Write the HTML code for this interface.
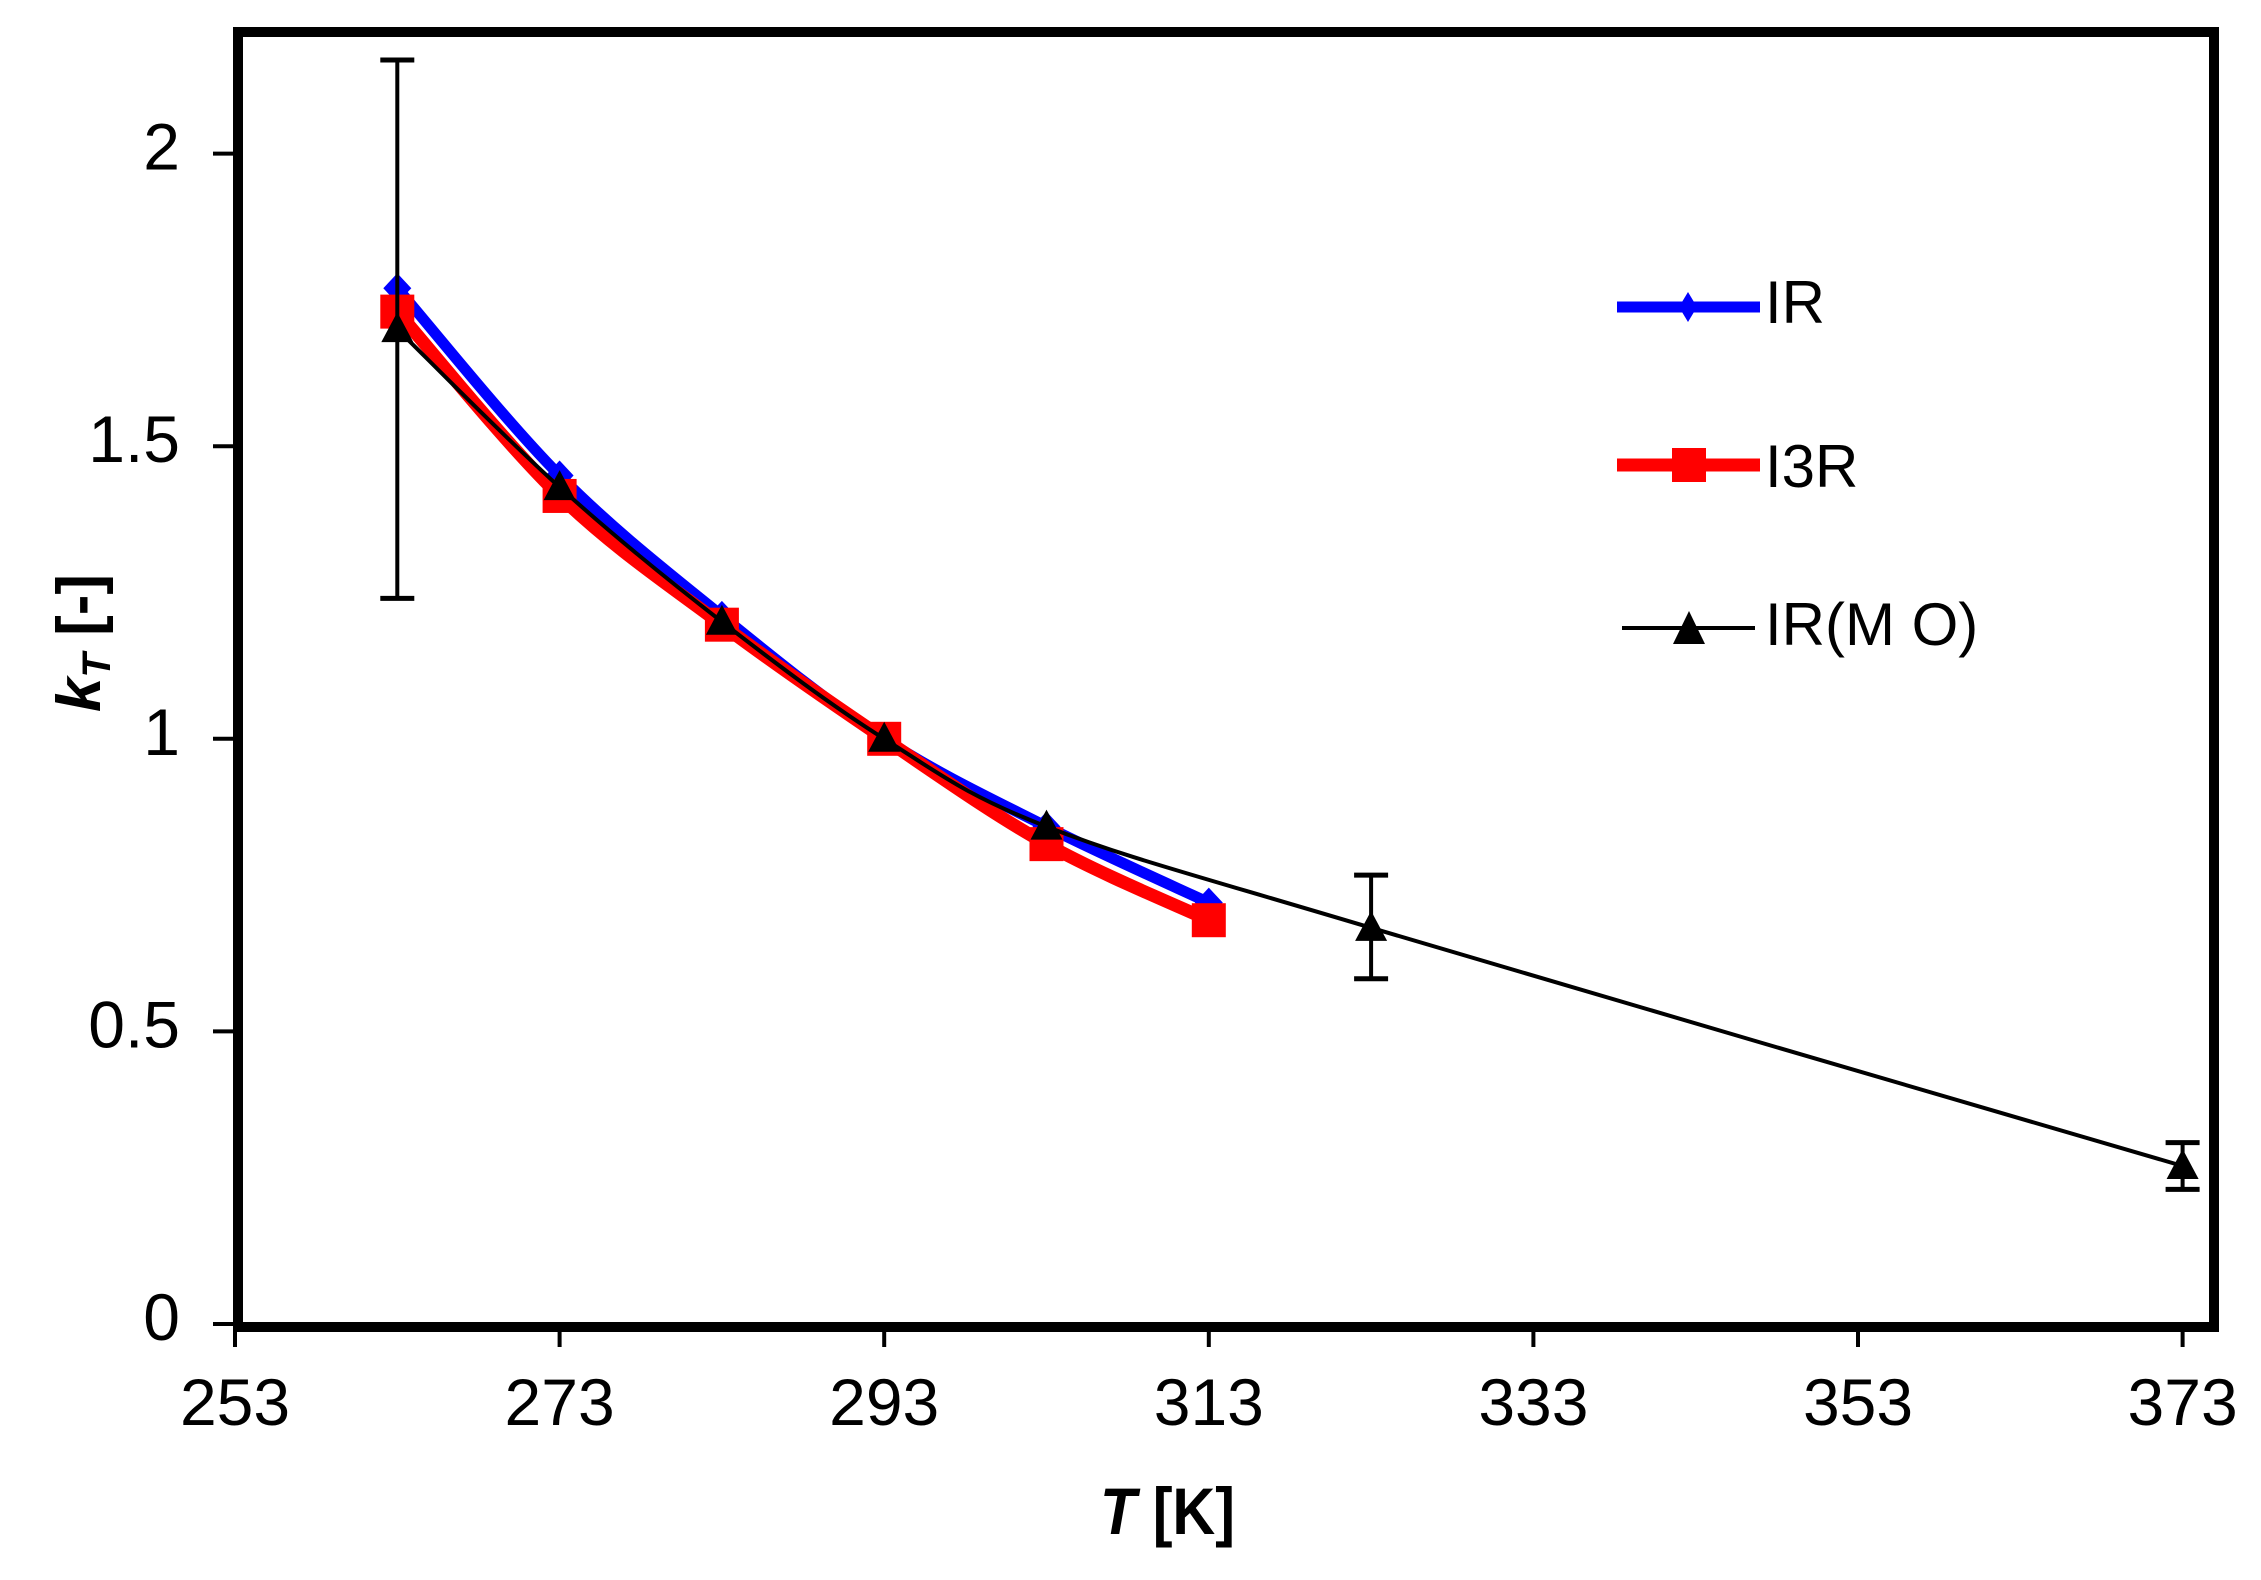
<!DOCTYPE html>
<html><head><meta charset="utf-8"><style>
html,body{margin:0;padding:0;background:#fff;}
svg{display:block;font-family:"Liberation Sans",Arial,sans-serif;}
</style></head><body>
<svg id="chart" width="2261" height="1580" viewBox="0 0 2261 1580" xmlns="http://www.w3.org/2000/svg">
<g id="plot"></g>
<g id="legend">
  <g>
    <line x1="1617" y1="307" x2="1760" y2="307" stroke="#0000ff" stroke-width="11"/>
    <path d="M1688,292 L1697,307 L1688,322 L1679,307 Z" fill="#0000ff"/>
    <text x="1765" y="323" font-size="60" fill="#000">IR</text>
  </g>
  <g>
    <line x1="1617" y1="465" x2="1760" y2="465" stroke="#ff0000" stroke-width="13"/>
    <rect x="1672" y="448" width="34" height="34" fill="#ff0000"/>
    <text x="1765" y="487" font-size="60" fill="#000">I3R</text>
  </g>
  <g>
    <line x1="1622" y1="628" x2="1755" y2="628" stroke="#000" stroke-width="4"/>
    <path d="M1689,611 L1705,644 L1673,644 Z" fill="#000"/>
    <text x="1765" y="645" font-size="60" fill="#000">IR(M O)</text>
  </g>
</g>
<text x="1100" y="1534" font-size="66" font-weight="bold" textLength="135" lengthAdjust="spacingAndGlyphs"><tspan font-style="italic">T</tspan> [K]</text>
<text transform="translate(100,643) rotate(-90)" text-anchor="middle" font-size="62" font-weight="bold"><tspan font-style="italic">k</tspan><tspan font-style="italic" font-size="40" dy="10">T</tspan><tspan dy="-10"> [-]</tspan></text>
</svg>
<script>
const xTicks = [253, 273, 293, 313, 333, 353, 373];
const yTicks = [0, 0.5, 1, 1.5, 2];
const yTickLabels = ["0", "0.5", "1", "1.5", "2"];
const irT = [263, 273, 283, 293, 303, 313];
const irK = [1.77, 1.45, 1.21, 1.0, 0.85, 0.72];
const i3rT = [263, 273, 283, 293, 303, 313];
const i3rK = [1.73, 1.415, 1.195, 1.0, 0.82, 0.69];
const moT = [263, 273, 283, 293, 303, 323, 373];
const moK = [1.70, 1.43, 1.20, 1.0, 0.85, 0.677, 0.27];
const moErrHi = [2.16, null, null, null, null, 0.767, 0.31];
const moErrLo = [1.24, null, null, null, null, 0.59, 0.23];

const NS = "http://www.w3.org/2000/svg";
const X0 = 235, XS = 16.23, Y0 = 1324, YS = 585.2;
const L = 238, R = 2214, T = 32, B = 1327;
function xp(v){ return X0 + (v - 253) * XS; }
function yp(v){ return Y0 - v * YS; }
const plot = document.getElementById('plot');
function mk(tag, attrs, parent){
  const e = document.createElementNS(NS, tag);
  for (const k in attrs) e.setAttribute(k, attrs[k]);
  (parent || plot).appendChild(e);
  return e;
}
function smooth(xs, ys){
  const p = xs.map(function(x, i){ return [xp(x), yp(ys[i])]; });
  let d = 'M' + p[0][0] + ',' + p[0][1];
  for (let i = 0; i < p.length - 1; i++){
    const p0 = p[i-1] || p[i], p1 = p[i], p2 = p[i+1], p3 = p[i+2] || p2;
    const c1x = p1[0] + (p2[0]-p0[0])/6, c1y = p1[1] + (p2[1]-p0[1])/6;
    const c2x = p2[0] - (p3[0]-p1[0])/6, c2y = p2[1] - (p3[1]-p1[1])/6;
    d += ' C' + c1x + ',' + c1y + ' ' + c2x + ',' + c2y + ' ' + p2[0] + ',' + p2[1];
  }
  return d;
}
const frame = mk('rect', {x:L, y:T, width:R-L, height:B-T, fill:'none', stroke:'#000', 'stroke-width':10});


xTicks.forEach(function(v){
  const g = mk('g', {});
  
  
  mk('line', {x1:xp(v), x2:xp(v), y1:B, y2:1347, stroke:'#000', 'stroke-width':4}, g);
  const t = mk('text', {x:xp(v), y:1425, 'text-anchor':'middle', 'font-size':66}, g);
  t.textContent = String(v);
});
yTicks.forEach(function(v, i){
  const g = mk('g', {});
  
  
  mk('line', {x1:213, x2:L, y1:yp(v), y2:yp(v), stroke:'#000', 'stroke-width':4}, g);
  const t = mk('text', {x:180, y:yp(v) + 16, 'text-anchor':'end', 'font-size':66}, g);
  t.textContent = yTickLabels[i];
});
const irG = mk('g', {});


mk('path', {d:smooth(irT, irK), fill:'none', stroke:'#0000ff', 'stroke-width':11, 'stroke-linejoin':'round'}, irG);
irT.forEach(function(x, i){
  const cx = xp(x), cy = yp(irK[i]);
  const p = mk('path', {d:'M'+cx+','+(cy-15)+' L'+(cx+14)+','+cy+' L'+cx+','+(cy+15)+' L'+(cx-14)+','+cy+' Z', fill:'#0000ff'}, irG);
  
  
});
const i3G = mk('g', {});


mk('path', {d:smooth(i3rT, i3rK), fill:'none', stroke:'#ff0000', 'stroke-width':13, 'stroke-linejoin':'round'}, i3G);
i3rT.forEach(function(x, i){
  const r = mk('rect', {x:xp(x)-17, y:yp(i3rK[i])-17, width:34, height:34, fill:'#ff0000'}, i3G);
  
  
});
const moG = mk('g', {});


mk('path', {d:smooth(moT, moK), fill:'none', stroke:'#000', 'stroke-width':4}, moG);
moT.forEach(function(x, i){
  const cx = xp(x), cy = yp(moK[i]);
  if (moErrHi[i] !== null){
    const eb = mk('g', {}, moG);
    
    
    const yh = yp(moErrHi[i]), yl = yp(moErrLo[i]);
    mk('line', {x1:cx, x2:cx, y1:yh, y2:yl, stroke:'#000', 'stroke-width':4}, eb);
    mk('line', {x1:cx-17, x2:cx+17, y1:yh, y2:yh, stroke:'#000', 'stroke-width':5}, eb);
    mk('line', {x1:cx-17, x2:cx+17, y1:yl, y2:yl, stroke:'#000', 'stroke-width':5}, eb);
  }
  const p = mk('path', {d:'M'+cx+','+(cy-17)+' L'+(cx+16)+','+(cy+13)+' L'+(cx-16)+','+(cy+13)+' Z', fill:'#000'}, moG);
  
  
});
</script>
</body></html>
